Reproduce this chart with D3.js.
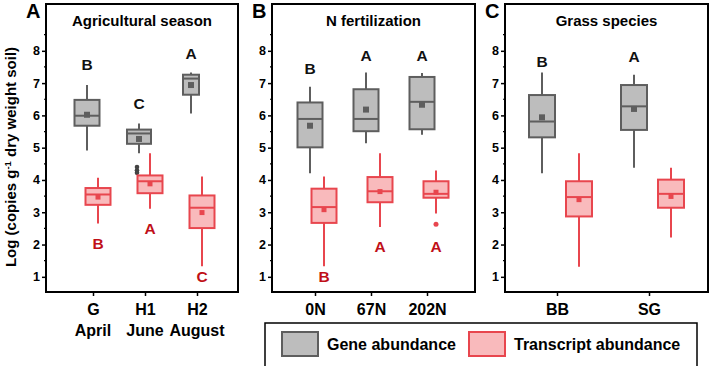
<!DOCTYPE html>
<html>
<head>
<meta charset="utf-8">
<script src="https://cdn.jsdelivr.net/npm/d3@7"></script>
<style>
  body { margin: 0; background: #fff; }
  svg text { font-family: "Liberation Sans", Arial, sans-serif; font-weight: bold; }
</style>
</head>
<body>
<div id="chart"></div>
<script>
// Data: [whisker low, Q1, median, Q3, whisker high, mean]
const seasonCats = ["G", "H1", "H2"];
const seasonSub = ["April", "June", "August"];
const nCats = ["0N", "67N", "202N"];
const grassCats = ["BB", "SG"];

const geneSeason = [[4.91, 5.68, 5.99, 6.48, 6.94, 6.02], [4.83, 5.12, 5.44, 5.56, 5.75, 5.27], [6.06, 6.64, 7.14, 7.26, 7.33, 6.94]];
const trSeason = [[2.65, 3.23, 3.55, 3.75, 4.07, 3.47], [3.11, 3.59, 3.96, 4.14, 4.83, 3.88], [1.33, 2.51, 3.14, 3.52, 4.11, 2.99]];
const geneN = [[4.21, 5.01, 5.89, 6.40, 6.89, 5.68], [5.14, 5.51, 5.89, 6.81, 7.33, 6.18], [5.40, 5.57, 6.42, 7.19, 7.31, 6.33]];
const trN = [[1.33, 2.67, 3.16, 3.73, 4.11, 3.08], [2.54, 3.31, 3.65, 4.09, 4.83, 3.64], [2.96, 3.45, 3.57, 3.96, 4.29, 3.62]];
const geneGrass = [[4.21, 5.32, 5.81, 6.63, 7.33, 5.94], [4.38, 5.55, 6.28, 6.94, 7.26, 6.20]];
const trGrass = [[1.31, 2.87, 3.47, 3.96, 4.83, 3.39], [2.22, 3.14, 3.57, 4.01, 4.38, 3.49]];

// outliers: [category index, value]
const geneSeasonOut = [[1, 4.40], [1, 4.30], [1, 4.22]];
const trNOut = [[2, 2.63]];

// significance letters and their heights (log units)
const geneSeasonLet = ["B", "C", "A"], geneSeasonLetY = [7.56, 6.36, 7.90];
const trSeasonLet = ["B", "A", "C"], trSeasonLetY = [2.03, 2.49, 1.02];
const geneNLet = ["B", "A", "A"], geneNLetY = [7.45, 7.86, 7.86];
const trNLet = ["B", "A", "A"], trNLetY = [1.00, 1.93, 1.95];
const geneGrassLet = ["B", "A"], geneGrassLetY = [7.66, 7.81];

const yTicks = [1, 2, 3, 4, 5, 6, 7, 8];
const legendLabels = ["Gene abundance", "Transcript abundance"];

const geneFill = "#bdbdbd", geneStroke = "#5e5e5e";
const trFill = "#f9babc", trStroke = "#e8464e";
const trLetterColor = "#c01018";

const W = 711, H = 366;
const svg = d3.select("#chart").append("svg").attr("width", W).attr("height", H);

const y = d3.scaleLinear().domain([0.53, 9.45]).range([292, 4]);

const panels = [
  { letter: "A", title: "Agricultural season", cats: seasonCats, sub: seasonSub,
    gene: geneSeason, tr: trSeason, geneOut: geneSeasonOut, trOut: [],
    geneLet: geneSeasonLet, geneLetY: geneSeasonLetY, trLet: trSeasonLet, trLetY: trSeasonLetY,
    frame: [46, 238], inset: [47, 41], off: [-6, 5], geneW: [25, 24, 16], trW: 25 },
  { letter: "B", title: "N fertilization", cats: nCats, sub: null,
    gene: geneN, tr: trN, geneOut: [], trOut: trNOut,
    geneLet: geneNLet, geneLetY: geneNLetY, trLet: trNLet, trLetY: trNLetY,
    frame: [272, 475], inset: [43, 48], off: [-5, 9], geneW: [25, 25, 25], trW: 25 },
  { letter: "C", title: "Grass species", cats: grassCats, sub: null,
    gene: geneGrass, tr: trGrass, geneOut: [], trOut: [],
    geneLet: geneGrassLet, geneLetY: geneGrassLetY, trLet: [], trLetY: [],
    frame: [505, 708], inset: [52, 59], off: [-15, 22], geneW: [26, 26], trW: 26 }
];

function drawBox(g, cx, w, s, fill, stroke, meanSize) {
  // whisker
  g.append("line").attr("x1", cx).attr("x2", cx)
    .attr("y1", y(s[0])).attr("y2", y(s[4]))
    .attr("stroke", stroke).attr("stroke-width", 2);
  g.append("rect").attr("x", cx - w / 2).attr("width", w)
    .attr("y", y(s[3])).attr("height", y(s[1]) - y(s[3]))
    .attr("fill", fill).attr("stroke", stroke).attr("stroke-width", 2);
  g.append("line").attr("x1", cx - w / 2).attr("x2", cx + w / 2)
    .attr("y1", y(s[2])).attr("y2", y(s[2]))
    .attr("stroke", stroke).attr("stroke-width", 2);
  g.append("rect").attr("x", cx - meanSize / 2).attr("y", y(s[5]) - meanSize / 2)
    .attr("width", meanSize).attr("height", meanSize).attr("fill", stroke);
}

panels.forEach(p => {
  const g = svg.append("g");
  const x = d3.scalePoint().domain(p.cats)
    .range([p.frame[0] + p.inset[0], p.frame[1] - p.inset[1]]);

  // frame
  g.append("rect").attr("x", p.frame[0]).attr("y", y.range()[1])
    .attr("width", p.frame[1] - p.frame[0]).attr("height", y.range()[0] - y.range()[1])
    .attr("fill", "none").attr("stroke", "#000").attr("stroke-width", 2);

  // y axis
  const yAxis = d3.axisLeft(y).tickValues(yTicks).tickSize(4).tickPadding(2).tickFormat(d3.format("d"));
  const ya = g.append("g").attr("transform", `translate(${p.frame[0]},0)`).call(yAxis);
  ya.select(".domain").remove();
  ya.selectAll(".tick line").attr("stroke", "#000").attr("stroke-width", 1.5);
  ya.selectAll(".tick text").attr("font-size", 12.5).attr("fill", "#000");
  const minor = d3.range(1.5, 9, 1);
  g.selectAll(".minor").data(minor).join("line")
    .attr("x1", p.frame[0] - 2).attr("x2", p.frame[0])
    .attr("y1", d => y(d)).attr("y2", d => y(d))
    .attr("stroke", "#000").attr("stroke-width", 1.2);

  // x axis
  const xAxis = d3.axisBottom(x).tickSize(4).tickPadding(8);
  const xa = g.append("g").attr("transform", `translate(0,${y.range()[0]})`).call(xAxis);
  xa.select(".domain").remove();
  xa.selectAll(".tick line").attr("stroke", "#000").attr("stroke-width", 1.5);
  xa.selectAll(".tick text").attr("font-size", 16).attr("fill", "#000");
  if (p.sub) {
    g.selectAll(".sub").data(p.cats).join("text")
      .attr("x", d => x(d)).attr("y", 336)
      .attr("text-anchor", "middle").attr("font-size", 16)
      .text((d, i) => p.sub[i]);
  }

  // title and letter
  g.append("text").attr("x", (p.frame[0] + p.frame[1]) / 2).attr("y", 26)
    .attr("text-anchor", "middle").attr("font-size", 15).text(p.title);
  g.append("text").attr("x", p.frame[0] - 20).attr("y", 18)
    .attr("text-anchor", "start").attr("font-size", 20).text(p.letter);

  // gene boxes
  p.gene.forEach((s, i) => {
    drawBox(g, x(p.cats[i]) + p.off[0], p.geneW[i], s, geneFill, geneStroke, 6);
  });
  p.geneOut.forEach(o => {
    g.append("circle").attr("cx", x(p.cats[o[0]]) + p.off[0] - 2).attr("cy", y(o[1]))
      .attr("r", 2.3).attr("fill", "#444");
  });
  p.geneLet.forEach((l, i) => {
    g.append("text").attr("x", x(p.cats[i]) + p.off[0]).attr("y", y(p.geneLetY[i]))
      .attr("dy", "0.35em").attr("text-anchor", "middle").attr("font-size", 15.5)
      .attr("fill", "#111").text(l);
  });

  // transcript boxes
  p.tr.forEach((s, i) => {
    drawBox(g, x(p.cats[i]) + p.off[1], p.trW, s, trFill, trStroke, 5);
  });
  p.trOut.forEach(o => {
    g.append("circle").attr("cx", x(p.cats[o[0]]) + p.off[1]).attr("cy", y(o[1]))
      .attr("r", 2.5).attr("fill", trStroke);
  });
  p.trLet.forEach((l, i) => {
    g.append("text").attr("x", x(p.cats[i]) + p.off[1]).attr("y", y(p.trLetY[i]))
      .attr("dy", "0.35em").attr("text-anchor", "middle").attr("font-size", 15.5)
      .attr("fill", trLetterColor).text(l);
  });
});

// y axis label
const yl = svg.append("text")
  .attr("transform", "translate(16,157) rotate(-90)")
  .attr("text-anchor", "middle").attr("font-size", 15);
yl.append("tspan").text("Log (copies g");
yl.append("tspan").attr("font-size", 9.5).attr("dy", -5).text("-1");
yl.append("tspan").attr("dy", 5).text(" dry weight soil)");

// legend
const lg = svg.append("g");
lg.append("rect").attr("x", 265).attr("y", 323).attr("width", 432).attr("height", 50)
  .attr("fill", "#fff").attr("stroke", "#000").attr("stroke-width", 1.5);
const swatches = [[282, geneFill, geneStroke], [469, trFill, trStroke]];
legendLabels.forEach((t, i) => {
  const [sx, f, s] = swatches[i];
  lg.append("rect").attr("x", sx).attr("y", 332).attr("width", 36).attr("height", 24)
    .attr("fill", f).attr("stroke", s).attr("stroke-width", 2);
  lg.append("text").attr("x", sx + 45).attr("y", 344).attr("dy", "0.35em")
    .attr("font-size", 16).text(t);
});
</script>
</body>
</html>
